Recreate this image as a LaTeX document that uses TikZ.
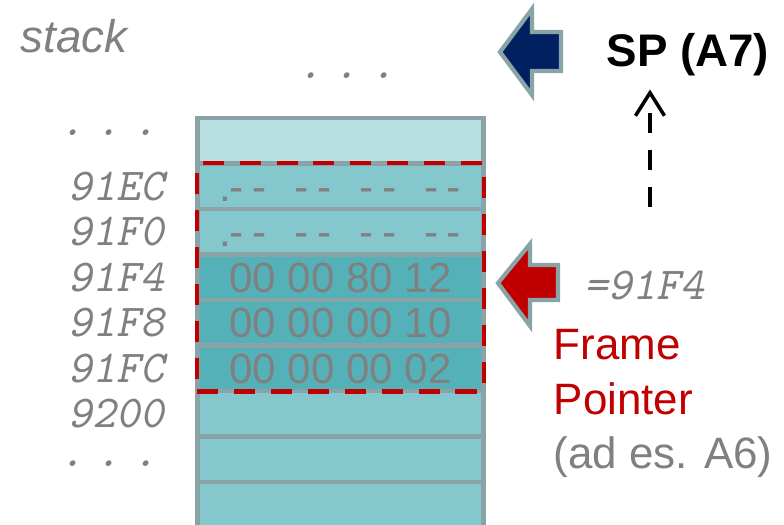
\documentclass[tikz,border=0pt]{standalone}
\usepackage{fontspec}
\setmainfont{Liberation Sans}
\newfontfamily\addrfont[FakeSlant=0.2]{lmmono10-regular.otf}
\usetikzlibrary{positioning, arrows.meta, fit}

\definecolor{framered}{HTML}{C00000}
\definecolor{spnavy}{HTML}{002060}
\definecolor{cellborder}{HTML}{8AA3A6}
\definecolor{celllight}{HTML}{B8DFE2}
\definecolor{cellmid}{HTML}{84C7CC}
\definecolor{celldark}{HTML}{55B1B8}
\definecolor{labelgray}{HTML}{808080}

\tikzset{
  memrow/.style={draw=cellborder, line width=1.4pt, minimum width=2.86cm, minimum height=0.455cm,
    inner sep=0pt, text=labelgray, font=\fontsize{12}{14}\selectfont, text height=8.6pt, text depth=0pt},
  addr/.style={text=labelgray, font=\addrfont\fontsize{13}{15}\selectfont, inner sep=0pt},
  framebox/.style={draw=framered, line width=1.3pt, dash pattern=on 6pt off 4.5pt},
  blockarrow/.style={draw=cellborder, line width=1.2pt, line join=miter},
  ptrline/.style={line width=1pt, dash pattern=on 5.7pt off 4.8pt, -{Straight Barb[length=2.3mm,width=2.9mm]}}
}

\newcommand{\nodata}{\makebox[2.41cm][s]{.\kern-0.5pt-\kern2.5pt-\hfill-\kern2.5pt-\hfill-\kern2.5pt-\hfill-\kern2.5pt-}}
\newcommand{\gapdots}{.\kern3.6pt.\kern3.6pt.}

\begin{document}
\begin{tikzpicture}
    \useasboundingbox (0,0) rectangle (7.84,5.25);
    \clip (0,0) rectangle (7.84,5.25);

    % Stack cells
    \foreach \i/\cellc/\val in {0/celllight/{}, 1/cellmid/\nodata, 2/cellmid/\nodata,
        3/celldark/00 00 80 12, 4/celldark/00 00 00 10, 5/celldark/00 00 00 02,
        6/cellmid/{}, 7/cellmid/{}, 8/cellmid/{}}
        \node[memrow, fill=\cellc] (row\i) at (3.405, {4.07-(\i+0.5)*0.455}) {\val};

    % Frame of the current call
    \node[framebox, fit=(row1)(row5), inner sep=-0.6pt] (frame) {};

    % Addresses
    \foreach \i/\addrtext in {1/91EC, 2/91F0, 3/91F4, 4/91F8, 5/91FC, 6/9200}
        \node[addr, left=0.3cm of row\i] (addr\i) {\addrtext};
    \node[addr, anchor=base east] (dotsup) at (1.58, 3.89) {\gapdots};
    \node[addr, anchor=base east] (dotsdown) at (1.58, 0.58) {\gapdots};
    \node[addr, anchor=base] (dotstop) at (3.47, 4.46) {\gapdots};
    \node[text=labelgray, font=\itshape\fontsize{13}{15}\selectfont, anchor=base west, inner sep=0pt] (stacklbl) at (0.20, 4.72) {stack};

    % Stack pointer
    \node[font=\bfseries\fontsize{13}{15}\selectfont, anchor=base, inner sep=0pt] (sp) at (6.88, 4.58) {SP (A7)};
    \coordinate (sptip) at (5.00, 4.73);
    \draw[blockarrow, fill=spnavy] (sptip) -- ++(0.32,0.43) -- ++(0,-0.23) -- ++(0.29,0)
        -- ++(0,-0.39) -- ++(-0.29,0) -- ++(0,-0.24) -- cycle;
    \coordinate (spfrom) at (6.50, 3.18);
    \draw[ptrline] (spfrom) -- ([yshift=-3.5pt]sp.south -| spfrom);

    % Frame pointer
    \coordinate (fptip) at (4.98, 2.42);
    \draw[blockarrow, fill=framered] (fptip) -- ++(0.32,0.39) -- ++(0,-0.21) -- ++(0.28,0)
        -- ++(0,-0.35) -- ++(-0.28,0) -- ++(0,-0.26) -- cycle;
    \node[addr, anchor=base west] (fpval) at (5.84, 2.25) {=91F4};
    \node[align=left, anchor=north west, inner sep=0pt, text=framered, font=\fontsize{12.5}{15.4}\selectfont]
        (fplbl) at (5.53, 1.96) {Frame\\Pointer\\\textcolor{labelgray}{(ad es. A6)}};
\end{tikzpicture}
\end{document}
